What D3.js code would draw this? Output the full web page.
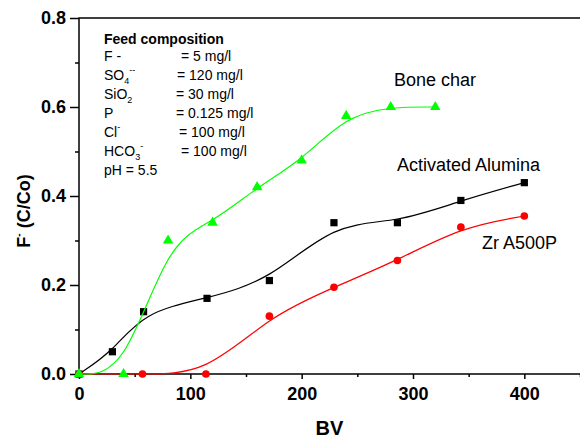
<!DOCTYPE html>
<html>
<head>
<meta charset="utf-8">
<script src="https://cdn.jsdelivr.net/npm/d3@7"></script>
<style>
	body { margin: 0; background: #fff; }
	svg { display: block; font-family: Arial, "Liberation Sans", sans-serif; }
</style>
</head>
<body>
<script>
//bed volumes and C/Co
var bvBone = [0, 40, 80, 120, 160, 200, 240, 280, 320];
var boneChar = [0, 0, 0.30, 0.34, 0.42, 0.48, 0.58, 0.60, 0.60];

var bvAlumina = [0, 30, 58, 115, 171, 229, 286, 343, 400];
var alumina = [0, 0.05, 0.14, 0.17, 0.21, 0.34, 0.34, 0.39, 0.43];

var bvZr = [0, 57, 114, 171, 229, 286, 343, 400];
var zrA500P = [0, 0, 0, 0.13, 0.195, 0.255, 0.33, 0.355];

var xTicks = [0, 100, 200, 300, 400];
var xMinor = [50, 150, 250, 350, 450];
var yTicks = [0, 0.2, 0.4, 0.6, 0.8];
var yMinor = [0.1, 0.3, 0.5, 0.7];

//feed composition box: [name, subscript, superscript, value]
var feedRows = [
	["F -", "", "", "= 5 mg/l"],
	["SO", "4", "--", "= 120 mg/l"],
	["SiO", "2", "", "= 30 mg/l"],
	["P", "", "", "= 0.125 mg/l"],
	["Cl", "", "-", "= 100 mg/l"],
	["HCO", "3", "-", "= 100 mg/l"],
	["pH = 5.5", "", "", ""]
];
var feedValueX = [181, 177, 176, 176, 179, 181, 0];

var width = 580;
var height = 438;

var svg = d3.select("body")
	.append("svg")
	.attr("width", width)
	.attr("height", height);

var x = d3.scaleLinear()
	.domain([0, 450])
	.range([79, 580]);

var y = d3.scaleLinear()
	.domain([0, 0.8])
	.range([374, 18]);

//major and minor ticks, bottom
var xAxis = d3.axisBottom(x)
	.tickValues(xTicks)
	.tickSize(5)
	.tickPadding(8)
	.tickFormat(d3.format("d"));

svg.append("g")
	.attr("transform", "translate(0," + y(0) + ")")
	.call(d3.axisBottom(x).tickValues(xMinor).tickSize(3).tickFormat(""))
	.call(function(g) { g.select(".domain").remove(); });

var gx = svg.append("g")
	.attr("transform", "translate(0," + y(0) + ")")
	.call(xAxis);

//left axis
var yAxis = d3.axisLeft(y)
	.tickValues(yTicks)
	.tickSize(9)
	.tickPadding(4)
	.tickFormat(d3.format(".1f"));

svg.append("g")
	.attr("transform", "translate(" + x(0) + ",0)")
	.call(d3.axisLeft(y).tickValues(yMinor).tickSize(4).tickFormat(""))
	.call(function(g) { g.select(".domain").remove(); });

var gy = svg.append("g")
	.attr("transform", "translate(" + x(0) + ",0)")
	.call(yAxis);

svg.selectAll(".domain").remove();
svg.selectAll(".tick line")
	.attr("stroke", "#000")
	.attr("stroke-width", 1.5);
svg.selectAll(".tick text")
	.attr("fill", "#000")
	.style("font-size", "18px")
	.style("font-weight", "bold");

//frame: left, bottom and top lines
svg.append("path")
	.attr("d", "M" + width + "," + y(0.8) + "H" + x(0) + "V" + y(0) + "H" + width)
	.attr("fill", "none")
	.attr("stroke", "#000")
	.attr("stroke-width", 1.5);

//axis titles
svg.append("text")
	.attr("x", x(225))
	.attr("y", 435)
	.attr("text-anchor", "middle")
	.style("font-size", "20px")
	.style("font-weight", "bold")
	.text("BV");

var yTitle = svg.append("text")
	.attr("transform", "translate(30,211) rotate(-90)")
	.attr("text-anchor", "middle")
	.style("font-size", "18px")
	.style("font-weight", "bold");
yTitle.append("tspan").text("F");
yTitle.append("tspan").attr("dy", -8).style("font-size", "10px").text("-");
yTitle.append("tspan").attr("dy", 8).text(" (C/Co)");

//one series: B-spline line plus symbols
function drawSeries(xs, ys, color, symbol, size)
{
	var pts = xs.map(function(d, i) { return [d, ys[i]]; });

	var line = d3.line()
		.x(function(d) { return x(d[0]); })
		.y(function(d) { return y(d[1]); })
		.curve(d3.curveBasis);

	svg.append("path")
		.datum(pts)
		.attr("d", line)
		.attr("fill", "none")
		.attr("stroke", color)
		.attr("stroke-width", 1.2);

	svg.append("g")
		.selectAll("path")
		.data(pts)
		.enter()
			.append("path")
			.attr("d", d3.symbol().type(symbol).size(size))
			.attr("transform", function(d) { return "translate(" + x(d[0]) + "," + y(d[1]) + ")"; })
			.attr("fill", color);
}

drawSeries(bvAlumina, alumina, "#000000", d3.symbolSquare, 52);
drawSeries(bvZr, zrA500P, "#ff0000", d3.symbolCircle, 46);
drawSeries(bvBone, boneChar, "#00ff00", d3.symbolTriangle, 48);

//series names
var names = [["Bone char", 394, 86], ["Activated Alumina", 397, 171], ["Zr A500P", 482, 249]];
svg.selectAll(".name")
	.data(names)
	.enter()
		.append("text")
		.attr("class", "name")
		.attr("x", function(d) { return d[1]; })
		.attr("y", function(d) { return d[2]; })
		.style("font-size", "18px")
		.text(function(d) { return d[0]; });

//feed composition block
svg.append("text")
	.attr("x", 104)
	.attr("y", 44)
	.style("font-size", "14px")
	.style("font-weight", "bold")
	.text("Feed composition");

feedRows.forEach(function(r, i)
{
	var by = 61 + i * 19;
	var t = svg.append("text")
		.attr("x", 104)
		.attr("y", by)
		.style("font-size", "14px");
	t.append("tspan").text(r[0]);
	if (r[1] != "")
	{
		t.append("tspan").attr("y", by + 4).style("font-size", "9px").text(r[1]);
	}
	if (r[2] != "")
	{
		t.append("tspan").attr("y", by - 7).style("font-size", "9px").text(r[2]);
	}
	if (r[3] != "")
	{
		svg.append("text")
			.attr("x", feedValueX[i])
			.attr("y", by)
			.style("font-size", "14px")
			.text(r[3]);
	}
});
</script>
</body>
</html>
